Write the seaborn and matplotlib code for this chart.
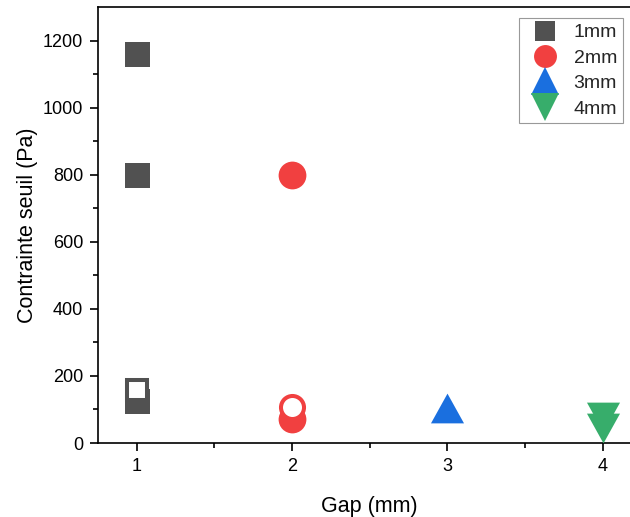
import matplotlib
matplotlib.use("Agg")
import matplotlib.pyplot as plt
from matplotlib.path import Path
from matplotlib.lines import Line2D
import seaborn as sns

# ---- data ----
series = ["1mm", "2mm", "3mm", "4mm"]
colors = ["#515151", "#F14040", "#1A6FDF", "#37AD6B"]
gap_1mm = [1, 1, 1]
stress_1mm = [1160, 800, 124]
gap_1mm_open = [1]
stress_1mm_open = [157]
gap_2mm = [2, 2]
stress_2mm = [800, 73]
gap_2mm_open = [2]
stress_2mm_open = [106]
gap_3mm = [3]
stress_3mm = [104]
gap_4mm = [4, 4]
stress_4mm = [78, 45]
xticks = [1, 2, 3, 4]
yticks = [0, 200, 400, 600, 800, 1000, 1200]

sns.set_theme(style="ticks")
plt.rcParams['font.family'] = ['Liberation Sans', 'DejaVu Sans']

fig = plt.figure(figsize=(6.3, 5.17), dpi=100)
ax = fig.add_axes([98/630, 1-443/517, 543.6/630, 436/517])

tri_up = Path([(0, 0.9), (-1, -0.9), (1, -0.9), (0, 0.9)],
              [Path.MOVETO, Path.LINETO, Path.LINETO, Path.CLOSEPOLY])
tri_dn = Path([(0, -0.9), (-1, 0.9), (1, 0.9), (0, -0.9)],
              [Path.MOVETO, Path.LINETO, Path.LINETO, Path.CLOSEPOLY])

# filled
sns.scatterplot(x=gap_1mm, y=stress_1mm, marker="s", s=324, color=colors[0],
                linewidth=0, ax=ax, zorder=3)
sns.scatterplot(x=gap_2mm, y=stress_2mm, marker="o", s=400, color=colors[1],
                linewidth=0, ax=ax, zorder=3)
sns.scatterplot(x=gap_3mm, y=stress_3mm, marker=tri_up, s=566, color=colors[2],
                linewidth=0, ax=ax, zorder=3)
sns.scatterplot(x=gap_4mm, y=stress_4mm, marker=tri_dn, s=566, color=colors[3],
                linewidth=0, ax=ax, zorder=3)
# hollow
sns.scatterplot(x=gap_1mm_open, y=stress_1mm_open, marker="s", s=228, color="white",
                edgecolor=colors[0], linewidth=2.9, ax=ax, zorder=4)
ax.collections[-1].set_joinstyle("miter")
sns.scatterplot(x=gap_2mm_open, y=stress_2mm_open, marker="o", s=275, color="white",
                edgecolor=colors[1], linewidth=2.9, ax=ax, zorder=4)

ax.set_xlim(0.75, 4.25)
ax.set_ylim(0, 1300)
ax.set_xticks(xticks)
ax.set_yticks(yticks)
ax.set_xticks([1.5, 2.5, 3.5], minor=True)
ax.set_yticks([100, 300, 500, 700, 900, 1100], minor=True)
ax.tick_params(which="major", direction="out", length=5.8, width=1.2,
               labelsize=13, color="black", labelcolor="black", pad=5)
ax.tick_params(which="minor", direction="out", length=3.5, width=1.2, color="black")
for sp in ax.spines.values():
    sp.set_linewidth(1.2)
    sp.set_color("black")
    sp.set_visible(True)
ax.set_xlabel("Gap (mm)", fontsize=15.5, color="black", labelpad=15)
ax.set_ylabel("Contrainte seuil (Pa)", fontsize=15.5, color="black", labelpad=3)

handles = [
    Line2D([], [], linestyle="none", marker="s", markersize=15, color=colors[0], markeredgewidth=0),
    Line2D([], [], linestyle="none", marker="o", markersize=16.5, color=colors[1], markeredgewidth=0),
    Line2D([], [], linestyle="none", marker="^", markersize=19.5, color=colors[2], markeredgewidth=0),
    Line2D([], [], linestyle="none", marker="v", markersize=19.5, color=colors[3], markeredgewidth=0),
]
leg = fig.legend(handles, series, loc="upper right",
                 bbox_to_anchor=(623/630, 1-18/517), bbox_transform=fig.transFigure,
                 borderaxespad=0, fontsize=14, frameon=True, fancybox=False,
                 framealpha=1, edgecolor="#999999", borderpad=0.3,
                 handlelength=2.0, handletextpad=0.5, labelspacing=0.4)
leg.get_frame().set_linewidth(0.8)

fig.savefig("out.png", dpi=100)
